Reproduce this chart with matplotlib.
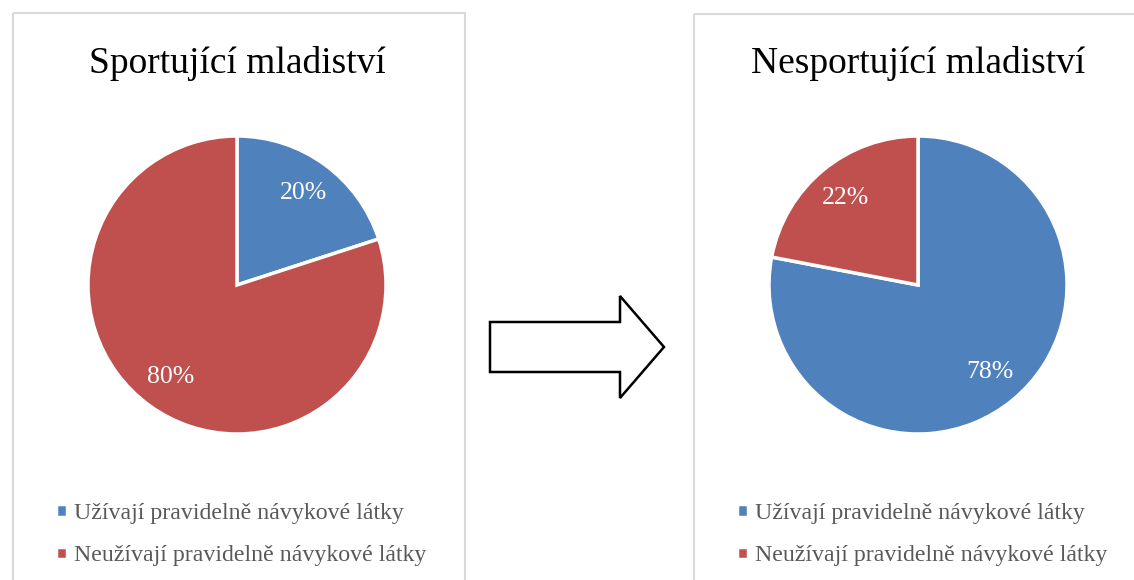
import matplotlib.pyplot as plt
from matplotlib.patches import Rectangle, Polygon

plt.rcParams['font.family'] = ['Liberation Serif', 'DejaVu Serif']

titles = ["Sportující mladiství", "Nesportující mladiství"]
categories = ["Užívají pravidelně návykové látky", "Neužívají pravidelně návykové látky"]
sport = [20, 80]
nesport = [78, 22]
colors = ["#4f81bd", "#c0504d"]

W, H = 1134, 580
fig = plt.figure(figsize=(W / 100, H / 100), dpi=100)

# background layer in pixel coordinates (panel frames + arrow)
bg = fig.add_axes([0, 0, 1, 1])
bg.set_xlim(0, W)
bg.set_ylim(H, 0)
bg.axis('off')
bg.add_patch(Rectangle((12.5, 12.5), 452, 600, fill=False, edgecolor='#d9d9d9', lw=1.5))
bg.add_patch(Rectangle((693.5, 13.5), 460, 600, fill=False, edgecolor='#d9d9d9', lw=1.5))
arrow = [(490, 322), (620, 322), (620, 296), (664, 347), (620, 398), (620, 372), (490, 372)]
bg.add_patch(Polygon(arrow, closed=True, facecolor='white', edgecolor='black', lw=1.8))

panels = [(237, 12, titles[0], sport), (918, 693, titles[1], nesport)]
R = 149
for cx, px, title, vals in panels:
    ax = fig.add_axes([(cx - R) / W, (H - 285 - R) / H, 2 * R / W, 2 * R / H])
    wedges, texts, autotexts = ax.pie(vals, colors=colors, startangle=90, counterclock=False,
                                      autopct='%d%%', pctdistance=0.76,
                                      wedgeprops=dict(edgecolor='white', linewidth=2.5),
                                      textprops=dict(color='white', fontsize=18.5))
    ax.set_xlim(-1.0, 1.0)
    ax.set_ylim(-1.0, 1.0)
    bg.text(cx, 73, title, ha='center', va='baseline', fontsize=27, color='black')
    leg = fig.legend(wedges, categories, loc='upper left',
                     bbox_to_anchor=((px + 44) / W, (H - 503) / H),
                     frameon=False, fontsize=17.2, handlelength=0.45, handleheight=0.45,
                     handletextpad=0.3, labelspacing=0.9, borderpad=0, borderaxespad=0)
    for t in leg.get_texts():
        t.set_color('#595959')

fig.savefig('out.png', dpi=100)
